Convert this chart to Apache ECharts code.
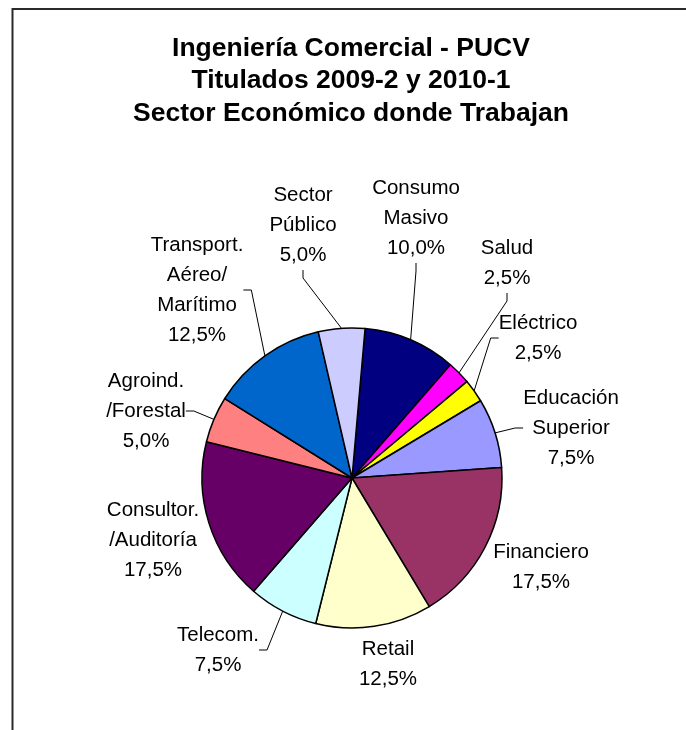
<!DOCTYPE html>
<html>
<head>
<meta charset="utf-8">
<script src="https://cdn.jsdelivr.net/npm/echarts@6/dist/echarts.min.js"></script>
<style>
  html, body { margin: 0; padding: 0; background: #fff; }
  #chart { width: 686px; height: 730px; }
</style>
</head>
<body>
<div id="chart"></div>
<script>
  // datos del grafico
  var sectores = ['Consumo\nMasivo', 'Salud', 'Eléctrico', 'Educación\nSuperior', 'Financiero', 'Retail',
    'Telecom.', 'Consultor.\n/Auditoría', 'Agroind.\n/Forestal', 'Transport.\nAéreo/\nMarítimo', 'Sector\nPúblico']
  var porcentajes = [10.0, 2.5, 2.5, 7.5, 17.5, 12.5, 7.5, 17.5, 5.0, 12.5, 5.0]
  var colores = ['#000080', '#ff00ff', '#ffff00', '#9999ff', '#993366', '#ffffcc',
    '#ccffff', '#660066', '#ff8080', '#0066cc', '#ccccff']
  var conLinea = [true, true, true, true, false, false, true, false, true, true, true]

  // posicion de cada etiqueta (centro del texto)
  var posEtiquetas = [[416, 218], [507, 263], [538, 338], [571, 428], [541, 567], [388, 664],
    [218, 650], [153, 540], [146, 411], [197, 290], [303, 225]]

  var fuente = 'Liberation Sans'

  var datos = sectores.map(function (s, i) {
    return {
      name: s,
      value: porcentajes[i],
      itemStyle: { color: colores[i] },
      labelLine: { show: conLinea[i] }
    }
  })

  var chart = echarts.init(document.getElementById('chart'))
  chart.setOption({
    backgroundColor: '#fff',
    animation: false,
    graphic: [{
      type: 'rect',
      shape: { x: 12.5, y: 9, width: 900, height: 900 },
      style: { fill: null, stroke: '#2a2a2a', lineWidth: 2 },
      silent: true
    }],
    title: {
      text: 'Ingeniería Comercial - PUCV\nTitulados 2009-2 y 2010-1\nSector Económico donde Trabajan',
      left: 351,
      top: 32,
      padding: 0,
      textAlign: 'center',
      textStyle: {
        fontFamily: fuente,
        fontSize: 26.5,
        fontWeight: 'bold',
        lineHeight: 32.5,
        color: '#000'
      }
    },
    series: [{
      type: 'pie',
      center: [352, 478],
      radius: 150,
      startAngle: 85,
      clockwise: true,
      avoidLabelOverlap: false,
      data: datos,
      itemStyle: { borderColor: '#000', borderWidth: 1.5 },
      label: {
        show: true,
        position: 'outside',
        fontFamily: fuente,
        fontSize: 20.5,
        lineHeight: 30,
        color: '#000',
        align: 'center',
        formatter: function (p) {
          return p.name + '\n' + p.value.toFixed(1).replace('.', ',') + '%'
        }
      },
      labelLine: {
        length: 10,
        length2: 8,
        lineStyle: { color: '#000', width: 1 }
      },
      labelLayout: function (p) {
        var pos = posEtiquetas[p.dataIndex]
        return { x: pos[0], y: pos[1], align: 'center', verticalAlign: 'middle' }
      },
      emphasis: { disabled: true }
    }]
  })
</script>
</body>
</html>
